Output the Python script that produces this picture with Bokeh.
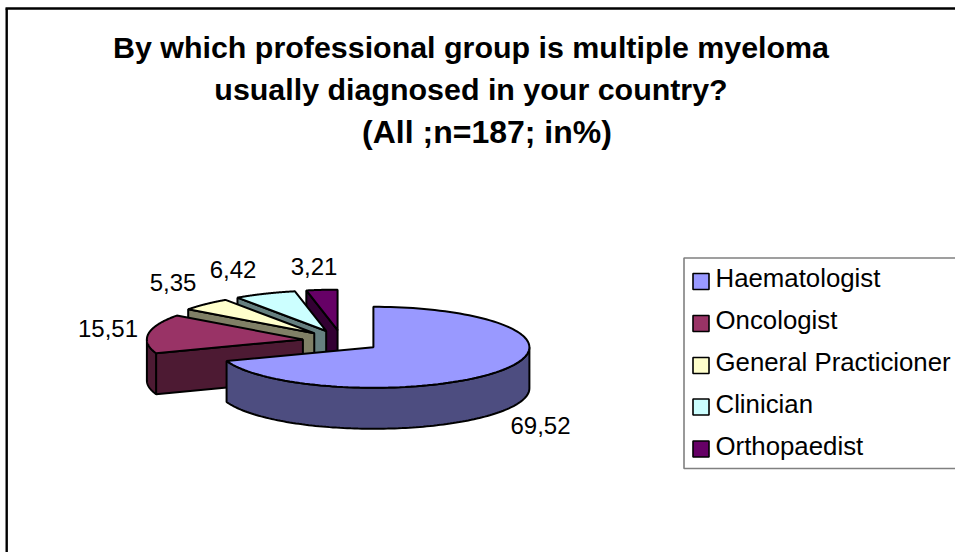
import numpy as np
from bokeh.plotting import figure
from bokeh.models import Range1d
from bokeh.core.properties import value
from bokeh.embed import file_html
from bokeh.resources import INLINE

# ---- data ----
categories = ["Haematologist", "Oncologist", "General Practicioner", "Clinician", "Orthopaedist"]
values = [69.52, 15.51, 5.35, 6.42, 3.21]
title_lines = ["By which professional group is multiple myeloma",
               "usually diagnosed in your country?",
               "(All ;n=187; in%)"]

# ---- styles ----
top_colors = ["#9999FF", "#993366", "#FFFFCC", "#CCFFFF", "#660066"]
side_colors = ["#4D4D80", "#4D1A33", "#808066", "#668080", "#330033"]
FONT = value("Liberation Sans")

W, H = 955, 552
p = figure(width=W, height=H, output_backend="svg", toolbar_location=None,
           x_range=Range1d(0, W), y_range=Range1d(H, 0), min_border=0,
           x_axis_type=None, y_axis_type=None, background_fill_color="white",
           border_fill_color="white", outline_line_color=None)
p.grid.visible = False
p.margin = (0, 0, 0, 0)

# chart frame
p.line([6.2, 6.2], [8, H], line_color="black", line_width=2.4)
p.line([5, W], [8, 8], line_color="black", line_width=2.4)

# ---- 3-D pie projection ----
CX, CY, RX, RY, DEPTH = 341.0, 340.5, 156.0, 40.5, 41.0
EX, EY = 39.0, 10.9  # explosion offset
LW = 2.0

def pt(a, ox, oy, dy=0.0):
    return ox + RX * np.sin(a), oy - RY * np.cos(a) + dy

total = sum(values)
edges = np.cumsum([0.0] + list(values)) / total * 2 * np.pi
for i in range(len(values) - 1, -1, -1):
    a0, a1 = edges[i], edges[i + 1]
    mid = (a0 + a1) / 2
    ox, oy = CX + EX * np.sin(mid), CY - EY * np.cos(mid)
    arc = np.linspace(a0, a1, 120)
    if np.sin(a0) < -1e-6:
        x0, y0 = pt(a0, ox, oy)
        p.patch([ox, x0, x0, ox], [oy, y0, y0 + DEPTH, oy + DEPTH],
                fill_color=side_colors[i], line_color="black", line_width=LW)
    if np.sin(a1) > 1e-6:
        x1, y1 = pt(a1, ox, oy)
        p.patch([ox, x1, x1, ox], [oy, y1, y1 + DEPTH, oy + DEPTH],
                fill_color=side_colors[i], line_color="black", line_width=LW)
    lo, hi = max(a0, np.pi / 2), min(a1, 3 * np.pi / 2)
    if hi > lo:
        rim = np.linspace(lo, hi, 120)
        rx, ry = pt(rim, ox, oy)
        p.patch(list(rx) + list(rx[::-1]), list(ry) + list((ry + DEPTH)[::-1]),
                fill_color=side_colors[i], line_color="black", line_width=LW)
    tx, ty = pt(arc, ox, oy)
    p.patch([ox] + list(tx), [oy] + list(ty), fill_color=top_colors[i],
            line_color="black", line_width=LW)

# data labels
label_x = [540, 107.5, 172.5, 232.5, 313.5]
label_y = [424.7, 327.7, 281.7, 268.7, 265.7]
labels = [f"{v:.2f}".replace(".", ",") for v in values]
p.text(x=label_x, y=label_y, text=labels, text_font=FONT, text_font_size="24px",
       text_color="black", text_align="center", text_baseline="middle")

# title
p.text(x=[470.5, 470.5], y=[46.5, 88.5], text=title_lines[:2], text_font=FONT,
       text_font_size="30.4px", text_font_style="bold", text_color="black",
       text_align="center", text_baseline="middle")
p.text(x=[486.5], y=[131], text=title_lines[2:], text_font=FONT,
       text_font_size="32px", text_font_style="bold", text_color="black",
       text_align="center", text_baseline="middle")

# legend
p.line([W, 683.5, 683.5, W], [257.5, 257.5, 468, 468], line_color="#808080", line_width=1.6)
row_y = [277, 319.5, 361.5, 403.5, 445]
sw_y = [281, 323, 365, 406.5, 448.5]
p.rect(x=[700.5] * 5, y=sw_y, width=16, height=16, fill_color=top_colors,
       line_color="black", line_width=1.6)
p.text(x=[715] * 5, y=row_y, text=categories, text_font=FONT, text_font_size="25.8px",
       text_color="black", text_align="left", text_baseline="middle")

open("out.html", "w").write(file_html(p, INLINE))
